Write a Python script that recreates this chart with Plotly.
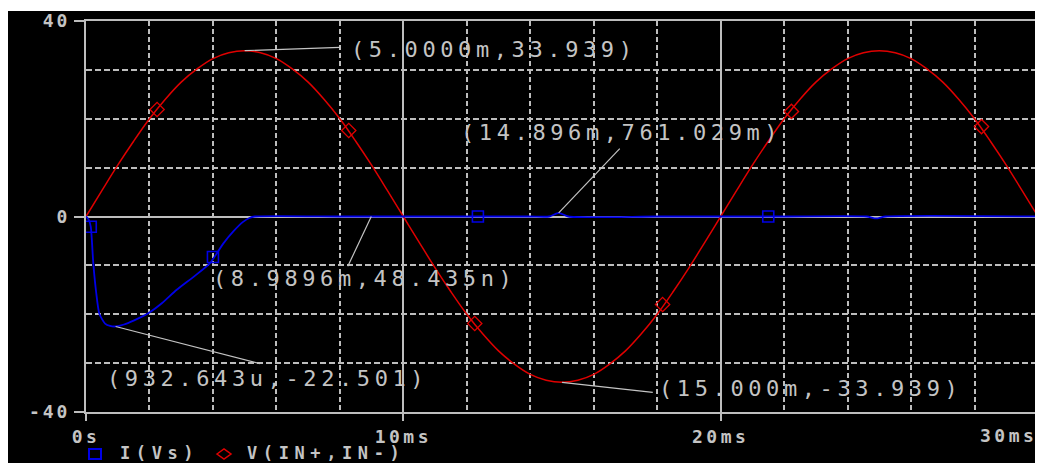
import plotly.graph_objects as go

# ---------------- data ----------------
# V(IN+,IN-) sampled every 0.5 ms (volts)
v_time = [0, 0.5, 1, 1.5, 2, 2.5, 3, 3.5, 4, 4.5, 5, 5.5, 6, 6.5, 7, 7.5, 8, 8.5, 9, 9.5, 10,
          10.5, 11, 11.5, 12, 12.5, 13, 13.5, 14, 14.5, 15, 15.5, 16, 16.5, 17, 17.5, 18, 18.5, 19, 19.5, 20,
          20.5, 21, 21.5, 22, 22.5, 23, 23.5, 24, 24.5, 25, 25.5, 26, 26.5, 27, 27.5, 28, 28.5, 29, 29.5, 30]
v_vals = [0, 5.3, 10.5, 15.4, 20.0, 24.0, 27.5, 30.2, 32.3, 33.5, 33.9,
          33.5, 32.3, 30.2, 27.5, 24.0, 20.0, 15.4, 10.5, 5.3, 0,
          -5.3, -10.5, -15.4, -20.0, -24.0, -27.5, -30.2, -32.3, -33.5, -33.9,
          -33.5, -32.3, -30.2, -27.5, -24.0, -20.0, -15.4, -10.5, -5.3, 0,
          5.3, 10.5, 15.4, 20.0, 24.0, 27.5, 30.2, 32.3, 33.5, 33.9,
          33.5, 32.3, 30.2, 27.5, 24.0, 20.0, 15.4, 10.5, 5.3, 0]
v_mark_t = [2.24, 8.28, 12.25, 18.17, 22.23, 28.22]
v_mark_v = [21.9, 17.6, -21.9, -18.0, 21.5, 18.4]

# I(Vs) (amps)
i_time = [0, 0.08, 0.15, 0.23, 0.32, 0.42, 0.6, 0.76, 0.93, 1.2, 1.5, 1.96, 2.4, 2.86, 3.4, 3.9,
          4.33, 4.65, 4.95, 5.15, 5.32, 8, 10, 12, 14, 14.6, 14.9, 15.2, 18, 22, 24.6, 24.9, 25.2, 30]
i_vals = [0, -0.6, -2.1, -9.6, -15.5, -19.9, -21.9, -22.4, -22.5, -22.1, -21.3, -19.8, -17.7, -15.0, -12.3, -9.6,
          -5.5, -3.0, -1.1, -0.3, 0, 0, 0, 0, 0, 0, 0.76, 0, 0, 0, 0, -0.4, 0, 0]
i_mark_t = [0.15, 4.0, 12.35, 21.5]
i_mark_v = [-2.1, -8.3, 0, 0]

x_tickvals = [0, 10, 20, 30]
x_ticktext = ["0s", "10ms", "20ms", "30ms"]
y_tickvals = [-40, 0, 40]
y_ticktext = ["-40", "0", "40"]

# cursor labels: (point x, point y, leader end x, leader end y, text x, text y, text)
cursors = [
    (5.0, 33.94, 8.0, 34.6, 8.3, 34.2, "(5.0000m,33.939)"),
    (14.896, 0.76, 16.82, 13.9, 11.75, 17.2, "(14.896m,761.029m)"),
    (8.9896, 0.0, 8.25, -10.2, 3.95, -12.6, "(8.9896m,48.435n)"),
    (0.9326, -22.5, 5.48, -30.1, 0.6, -33.2, "(932.643u,-22.501)"),
    (15.0, -33.94, 17.86, -36.0, 17.98, -35.1, "(15.000m,-33.939)"),
]

RED = "#e00000"
BLUE = "#0000e6"
GRID = "#bdbdbd"
TXT = "#c4c4c4"

OFF = 8  # page offset of the figure (body margin)
W, H = 1043, 463
# plot area in page pixels: x 86..1038, y 21..412
ML, MT = 86 - OFF, 21 - OFF
MR, MB = W - (1038 - OFF), H - (412 - OFF)
PW, PH = W - ML - MR, H - MT - MB


def px(xp):  # page pixel -> paper coordinate
    return (xp - OFF - ML) / PW


def py(yp):
    return (H - MB - (yp - OFF)) / PH


def spaced(s, ls):
    return f'<span style="letter-spacing:{ls}px">{s}</span>'


fig = go.Figure()

fig.add_trace(go.Scatter(x=v_time, y=v_vals, mode="lines", line=dict(color=RED, width=1.5, shape="spline"),
                         name="V(IN+,IN-)", showlegend=False))
fig.add_trace(go.Scatter(x=i_time, y=i_vals, mode="lines", line=dict(color=BLUE, width=1.8, shape="spline", smoothing=0.6),
                         name="I(Vs)", showlegend=False))
fig.add_trace(go.Scatter(x=v_mark_t, y=v_mark_v, mode="markers",
                         marker=dict(symbol="diamond-open", size=11, color=RED, line=dict(width=1.3, color=RED)),
                         showlegend=False))
fig.add_trace(go.Scatter(x=i_mark_t, y=i_mark_v, mode="markers",
                         marker=dict(symbol="square-open", size=11, color=BLUE, line=dict(width=1.6, color=BLUE)),
                         showlegend=False))

shapes = [
    dict(type="rect", xref="paper", yref="paper", x0=px(0), x1=px(W + 20), y0=py(0), y1=py(11),
         fillcolor="white", line=dict(width=0), layer="below"),
    # legend symbols
    dict(type="rect", xref="paper", yref="paper", x0=px(89), x1=px(101), y0=py(449), y1=py(459),
         line=dict(color=BLUE, width=2)),
    dict(type="path", xref="paper", yref="paper",
         path=f"M {px(217)} {py(454)} L {px(224)} {py(449)} L {px(231)} {py(454)} L {px(224)} {py(459)} Z",
         line=dict(color=RED, width=1.5)),
]
annotations = []
for (x0, y0, x1, y1, tx, ty, label) in cursors:
    shapes.append(dict(type="line", xref="x", yref="y", x0=x0, y0=y0, x1=x1, y1=y1,
                       line=dict(color=TXT, width=1.2)))
    annotations.append(dict(x=tx, y=ty, xref="x", yref="y", text=spaced(label, 4.6), showarrow=False,
                            xanchor="left", yanchor="middle",
                            font=dict(family="DejaVu Sans Mono", size=22, color=TXT)))

legend_font = dict(family="DejaVu Sans Mono", size=17, color=TXT, weight="bold")
annotations.append(dict(x=px(118), y=py(453), xref="paper", yref="paper", text=spaced("I(Vs)", 5.6),
                        showarrow=False, xanchor="left", yanchor="middle", font=legend_font))
annotations.append(dict(x=px(245), y=py(453), xref="paper", yref="paper", text=spaced("V(IN+,IN-)", 5.6),
                        showarrow=False, xanchor="left", yanchor="middle", font=legend_font))

tickfont = dict(family="DejaVu Sans Mono", size=18, color=TXT, weight="bold")

# last x tick label is right-aligned against the frame (as in the reference)
annotations.append(dict(x=x_tickvals[-1], y=py(435), xref="x", yref="paper", text=spaced(x_ticktext[-1], 3.5),
                        showarrow=False, xanchor="right", yanchor="middle", xshift=1, font=tickfont))
x_ticktext_axis = [spaced(t, 3.5) for t in x_ticktext[:-1]] + [""]

fig.update_layout(
    template="none",
    width=W, height=H,
    margin=dict(l=ML, r=MR, t=MT, b=MB, pad=0),
    paper_bgcolor="black", plot_bgcolor="black",
    showlegend=False,
    shapes=shapes, annotations=annotations,
    xaxis=dict(range=[0, 30], tickvals=x_tickvals, ticktext=x_ticktext_axis,
               tickfont=tickfont, ticks="outside", ticklen=7, tickcolor=GRID, tickwidth=1.5,
               ticklabeloverflow="allow",
               showgrid=True, gridcolor=GRID, gridwidth=1.5, automargin=False,
               showline=True, linecolor=GRID, linewidth=2, mirror=True, zeroline=False,
               minor=dict(dtick=2, tick0=0, showgrid=True, gridcolor=GRID, gridwidth=1.5, griddash="5px,3px", ticks=""),
               fixedrange=True),
    yaxis=dict(range=[-40, 40], tickvals=y_tickvals, ticktext=[spaced(t, 3) for t in y_ticktext],
               tickfont=tickfont, ticks="outside", ticklen=10, tickcolor=GRID, tickwidth=1.5,
               showgrid=False, zeroline=True, zerolinecolor=GRID, zerolinewidth=1.5, automargin=False,
               showline=True, linecolor=GRID, linewidth=2, mirror=True,
               minor=dict(dtick=10, tick0=0, showgrid=True, gridcolor=GRID, gridwidth=1.5, griddash="6px,3px", ticks=""),
               fixedrange=True),
)

fig.write_html("out.html")
